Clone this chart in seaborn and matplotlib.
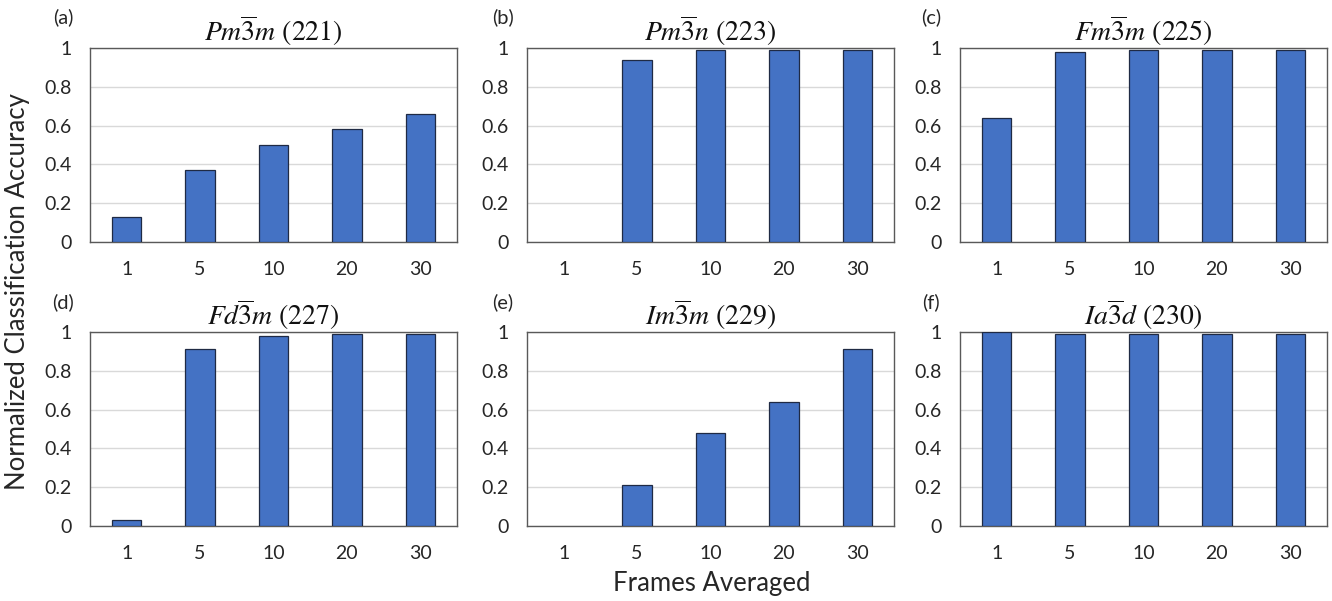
import matplotlib
matplotlib.use("Agg")
import matplotlib.pyplot as plt
import seaborn as sns
import pandas as pd

# Frames averaged per prediction (x categories)
frames = ["1", "5", "10", "20", "30"]

# Space-group titles and panel tags
titles = [
    r"$Pm\overline{3}m$ (221)",
    r"$Pm\overline{3}n$ (223)",
    r"$Fm\overline{3}m$ (225)",
    r"$Fd\overline{3}m$ (227)",
    r"$Im\overline{3}m$ (229)",
    r"$Ia\overline{3}d$ (230)",
]
tags = ["(a)", "(b)", "(c)", "(d)", "(e)", "(f)"]

# Normalized classification accuracy for each space group
acc_221 = [0.13, 0.37, 0.50, 0.58, 0.66]
acc_223 = [0.00, 0.94, 0.99, 0.99, 0.99]
acc_225 = [0.64, 0.98, 0.99, 0.99, 0.99]
acc_227 = [0.03, 0.91, 0.98, 0.99, 0.99]
acc_229 = [0.00, 0.21, 0.48, 0.64, 0.91]
acc_230 = [1.00, 0.99, 0.99, 0.99, 0.99]
series = [acc_221, acc_223, acc_225, acc_227, acc_229, acc_230]

yticks = [0, 0.2, 0.4, 0.6, 0.8, 1.0]
ytick_labels = ["0", "0.2", "0.4", "0.6", "0.8", "1"]

sns.set_theme(style="white")
plt.rcParams["font.family"] = ["Lato", "DejaVu Sans"]
plt.rcParams["mathtext.fontset"] = "stix"

W, H = 1332, 601
fig = plt.figure(figsize=(W / 100, H / 100), dpi=100)

col_left = [90, 527, 960]
row_top = [48, 332]
ax_w, ax_h = 367, 194

bar_color = "#4472C4"
edge_color = "#1F2A44"
frame_color = "#595959"
grid_color = "#D9D9D9"
text_color = "#262626"

for i, (vals, title, tag) in enumerate(zip(series, titles, tags)):
    r, c = divmod(i, 3)
    left = col_left[c] / W
    bottom = 1 - (row_top[r] + ax_h) / H
    ax = fig.add_axes([left, bottom, ax_w / W, ax_h / H])
    df = pd.DataFrame({"frames": frames, "accuracy": vals})
    sns.barplot(data=df, x="frames", y="accuracy", color=bar_color,
                edgecolor=edge_color, linewidth=0.9, width=0.4,
                saturation=1, ax=ax, zorder=3)
    # empty categories get no outline
    for p in ax.patches:
        if p.get_height() == 0:
            p.set_linewidth(0)
    ax.set_ylim(0, 1)
    ax.set_xlim(-0.5, 4.5)
    ax.set_yticks(yticks)
    ax.set_yticklabels(ytick_labels)
    ax.yaxis.grid(True, color=grid_color, linewidth=1.0, zorder=0)
    ax.set_axisbelow(True)
    ax.tick_params(axis="both", length=0, labelsize=14, colors=text_color)
    ax.tick_params(axis="y", pad=13)
    ax.tick_params(axis="x", pad=14)
    ax.set_xlabel("")
    ax.set_ylabel("")
    for s in ax.spines.values():
        s.set_visible(True)
        s.set_color(frame_color)
        s.set_linewidth(1.0)
    ax.set_title(title, fontsize=20, family="STIXGeneral", pad=5,
                 color="#111111")
    tag_x = [63, 503, 931][c] / W
    tag_y = 1 - [17, 302][r] / H
    fig.text(tag_x, tag_y, tag, fontsize=14.5, ha="center", va="center",
             color=text_color)

fig.text(18 / W, 1 - 292 / H, "Normalized Classification Accuracy",
         rotation=90, ha="center", va="center", fontsize=18.5, color=text_color)
fig.text(712 / W, 1 - 584 / H, "Frames Averaged", ha="center", va="center",
         fontsize=18.5, color=text_color)

fig.savefig("out.png", dpi=100, facecolor="white")
